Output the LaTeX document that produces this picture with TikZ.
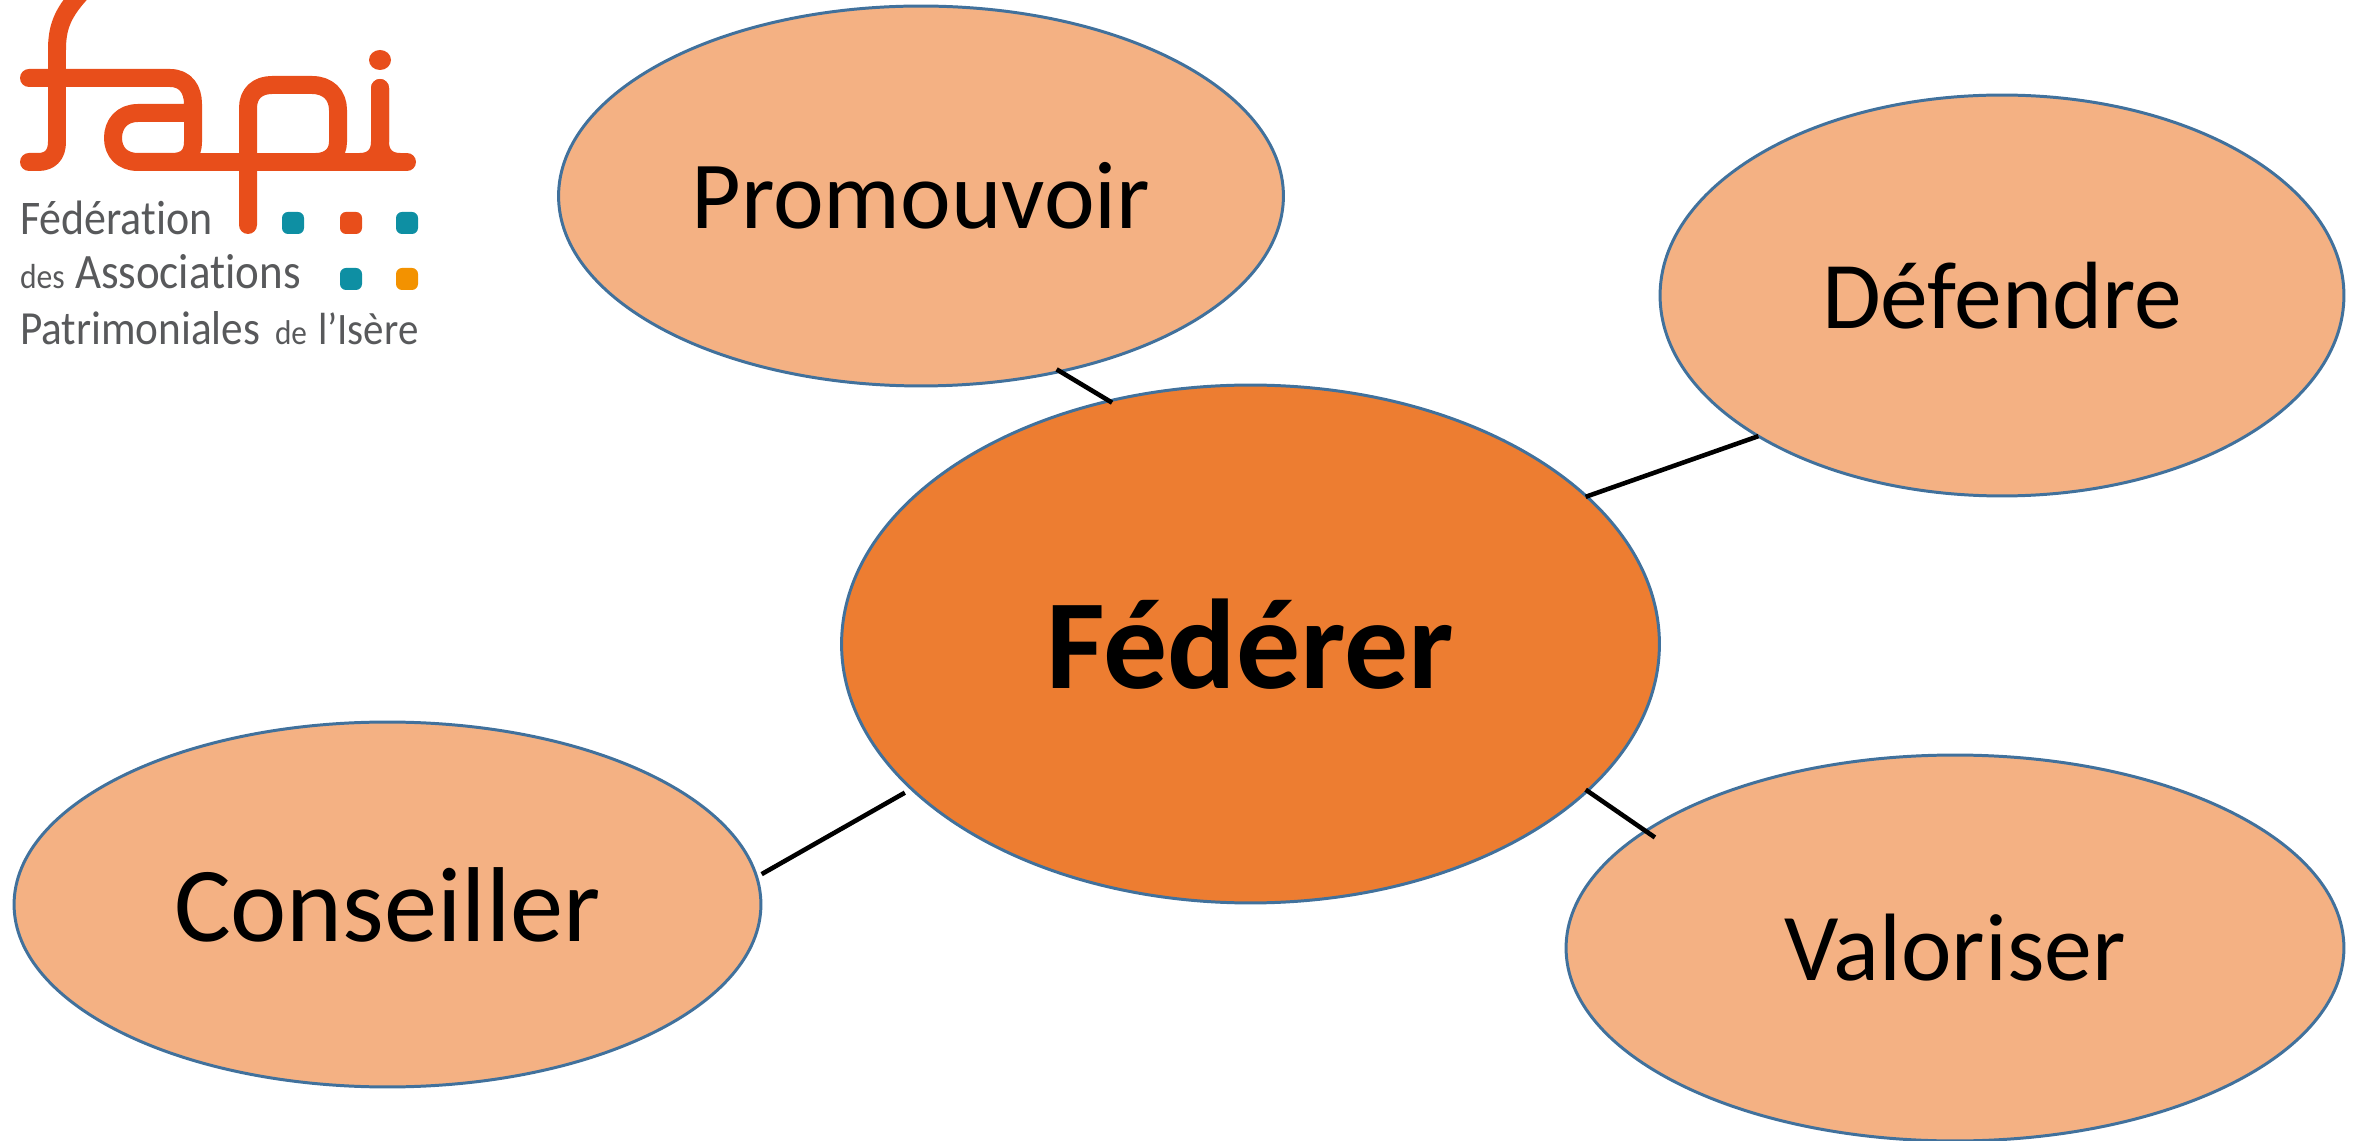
\documentclass[tikz,border=0pt]{standalone}
\usepackage{fontspec}
\usepackage{graphicx}
\setmainfont{Carlito}[Ligatures=NoCommon]
\usetikzlibrary{shapes.geometric}
\definecolor{lightorange}{HTML}{F4B183}
\definecolor{midorange}{HTML}{ED7D31}
\definecolor{edgeblue}{HTML}{41719C}
\definecolor{logored}{HTML}{E84E1B}
\definecolor{logoteal}{HTML}{0E8FA3}
\definecolor{logoamber}{HTML}{F39200}
\definecolor{logogray}{HTML}{58595B}
\newcommand{\fsz}[1]{\fontsize{#1}{#1}\selectfont}
\newcommand{\tall}[1]{\scalebox{1}[1.1]{#1}}
\tikzset{
  x=0.02cm,y=-0.02cm,
  bubble/.style={ellipse,draw=edgeblue,line width=1.7pt,inner sep=0pt,outer sep=0pt,text=black},
  leaf/.style={bubble,fill=lightorange},
  hub/.style={bubble,fill=midorange},
  link/.style={draw=black,line width=2.6pt},
  logostroke/.style={draw=logored,line width=0.36cm,line cap=round,line join=round},
  logotext/.style={anchor=base west,inner sep=0pt,outer sep=0pt,text=logogray},
  dot/.style={rounded corners=0.12cm,minimum size=0.44cm,inner sep=0pt}
}
\begin{document}
\begin{tikzpicture}
\useasboundingbox (0,0) rectangle (2364,1141);
% logo
\draw[logostroke] (80,-6) .. controls (62,14) and (57,28) .. (57,50) -- (57,142) .. controls (57,155) and (50,162) .. (38,162) -- (29,162);
\draw[logostroke] (29,78) -- (170,78) .. controls (186,78) and (193,90) .. (193,104) -- (193,142) .. controls (193,155) and (186,162) .. (172,162) -- (138,162) .. controls (122,162) and (113,152) .. (113,138) .. controls (113,124) and (122,113) .. (138,113) -- (193,113);
\draw[logostroke] (172,162) -- (407,162);
\draw[logostroke] (248,225) -- (248,108) .. controls (248,93) and (258,85) .. (272,85) -- (312,85) .. controls (328,85) and (338,95) .. (338,110) -- (338,142) .. controls (338,155) and (328,162) .. (316,162);
\draw[logostroke] (380,88) -- (380,142) .. controls (380,155) and (372,162) .. (360,162);
\draw[logostroke] (380,88) -- (380,142) .. controls (380,155) and (388,162) .. (400,162);
\fill[logored] (380,60) ellipse [x radius=11,y radius=10];
\node[logotext] (t1) at (20,235) {\fsz{25}\tall{Fédération}};
\node[logotext] (t2a) at (20,289) {\fsz{18}\tall{des}};
\node[logotext] (t2b) at (75,289) {\fsz{25.6}\tall{Associations}};
\node[logotext] (t3a) at (20,345) {\fsz{24.6}\tall{Patrimoniales}};
\node[logotext] (t3b) at (275,345) {\fsz{17.8}\tall{de}};
\node[logotext] (t3c) at (318,345) {\fsz{23.3}\tall{l’Isère}};
\node[dot,fill=logoteal] (s1) at (293,223) {};
\node[dot,fill=logored] (s2) at (351,223) {};
\node[dot,fill=logoteal] (s3) at (407,223) {};
\node[dot,fill=logoteal] (s4) at (351,279) {};
\node[dot,fill=logoamber] (s5) at (407,279) {};
% bubbles
\node[leaf,minimum width=14.50cm,minimum height=7.6cm] (pro) at (921,196) {\fsz{54.7}Promouvoir};
\node[leaf,minimum width=13.68cm,minimum height=8.02cm] (def) at (2002,295.5) {\fsz{54.4}Défendre};
\node[leaf,minimum width=14.94cm,minimum height=7.30cm] (con) at (387.5,904.5) {\fsz{60.6}Conseiller};
\node[leaf,minimum width=15.56cm,minimum height=7.72cm] (val) at (1955,948) {\fsz{54.5}Valoriser};
\node[hub,minimum width=16.36cm,minimum height=10.36cm] (fed) at (1250.5,644) {\fsz{72.7}\bfseries Fédérer};
% connectors
\draw[link] ([shift={(-6,-1.5)}]pro.-51.7) -- ([shift={(-3,3)}]fed.119.6);
\draw[link] (def.210.3) -- ([shift={(-4.5,-3)}]fed.23.7);
\draw[link] ([shift={(7.5,7.5)}]val.159.5) -- ([shift={(-4.5,1.5)}]fed.-23.6);
\draw[link] ([shift={(4.5,-4.5)}]con.4.66) -- ([shift={(-6,4.5)}]fed.203.3);
\end{tikzpicture}
\end{document}
